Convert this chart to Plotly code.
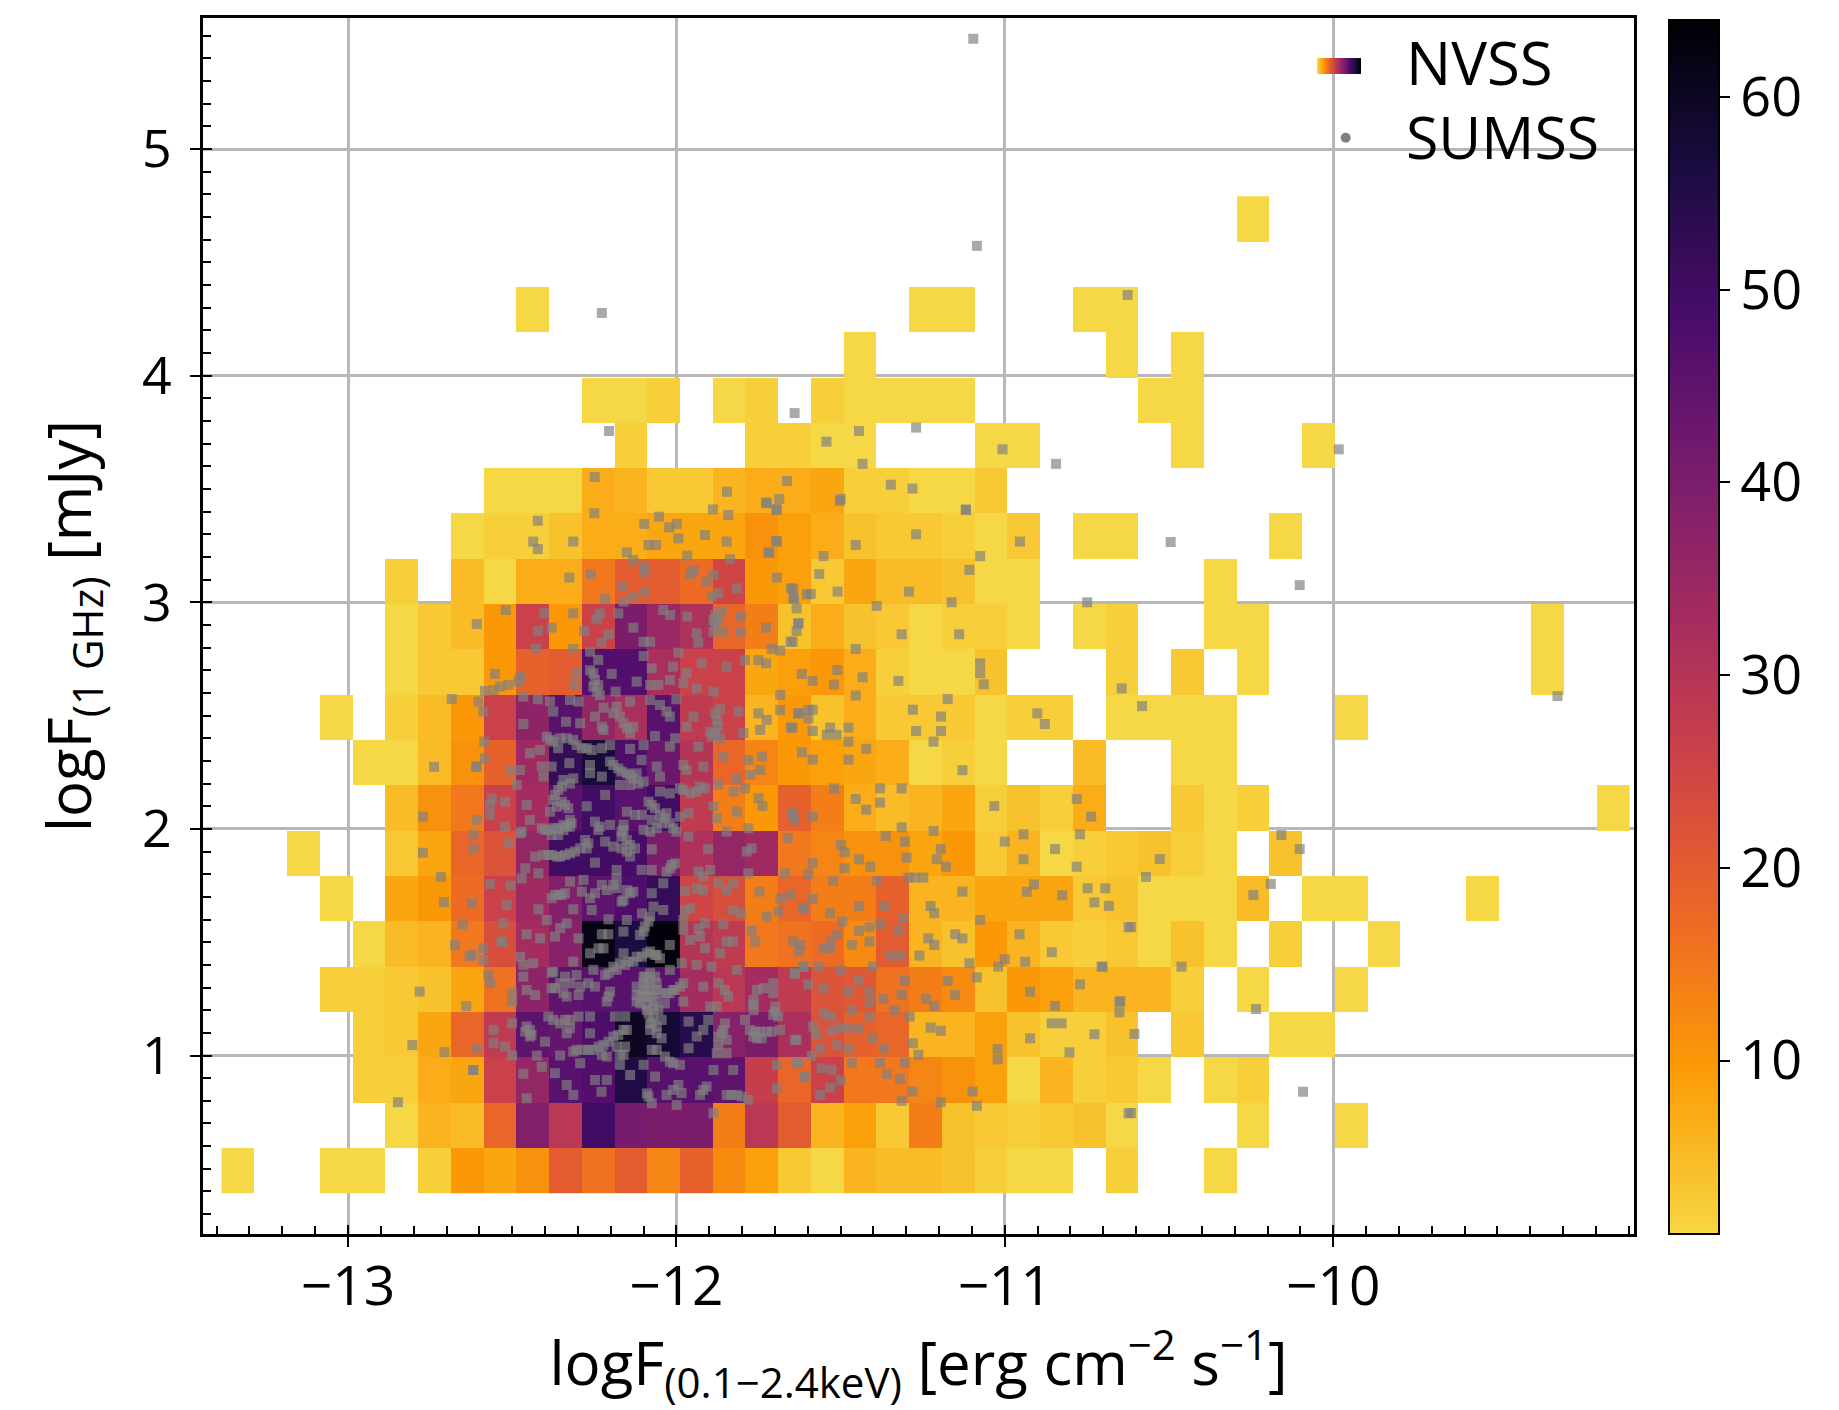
import plotly.graph_objects as go

W, H = 1839, 1410
x_first_edge = -13.385
x_bin = 0.0997
y_first_edge = 0.392
y_bin = 0.2
n_cols = 43
color_min, color_max = 1, 64
colorbar_ticks = [10, 20, 30, 40, 50, 60]
x_ticks = [-13, -12, -11, -10]
y_ticks = [1, 2, 3, 4, 5]

# NVSS counts: {row: {column: count}}; row 0 is the bottom row
r00 = {0:1,3:1,4:1,6:2,7:10,8:8,9:11,10:20,11:16,12:20,13:13,14:19,15:12,16:9,17:3,18:1,19:6,20:5,21:5,22:4,23:2,24:1,25:1,27:2,30:1}
r01 = {5:1,6:6,7:5,8:18,9:39,10:29,11:50,12:41,13:40,14:40,15:14,16:29,17:20,18:6,19:9,20:3,21:14,22:4,23:3,24:2,25:3,26:4,27:1,31:1,34:1}
r02 = {4:2,5:2,6:7,7:8,8:26,9:36,10:46,11:47,12:55,13:46,14:46,15:45,16:27,17:18,18:26,19:15,20:15,21:13,22:11,23:9,24:1,25:6,26:2,27:3,28:1,30:1,31:2}
r03 = {4:2,5:3,6:8,7:18,8:28,9:45,10:44,11:48,12:60,13:58,14:54,15:38,16:40,17:32,18:22,19:19,20:18,21:6,22:6,23:9,24:4,25:2,26:2,27:4,29:3,32:1,33:1}
r04 = {3:2,4:2,5:3,6:4,7:8,8:16,9:37,10:45,11:46,12:46,13:46,14:33,15:29,16:33,17:28,18:22,19:21,20:16,21:14,22:12,23:4,24:10,25:9,26:6,27:6,28:6,29:2,31:1,34:1}
r05 = {4:1,5:5,6:6,7:15,8:23,9:33,10:38,11:62,12:56,13:63,14:30,15:28,16:15,17:16,18:17,19:12,20:20,21:6,22:4,23:10,24:6,25:3,26:2,27:3,28:1,29:4,30:1,32:2,35:1}
r06 = {3:1,5:8,6:10,7:17,8:26,9:34,10:39,11:45,12:48,13:52,14:25,15:23,16:14,17:18,18:14,19:14,20:19,21:6,22:6,23:8,24:8,25:8,26:3,27:4,28:1,29:1,30:1,31:5,33:1,34:1,38:1}
r07 = {2:1,5:3,6:8,7:18,8:22,9:36,10:50,11:50,12:49,13:40,14:31,15:36,16:34,17:15,18:13,19:11,20:11,21:8,22:10,23:3,24:6,25:1,26:2,27:3,28:4,29:2,30:1,32:4}
r08 = {5:5,6:11,7:15,8:26,9:33,10:46,11:50,12:46,13:50,14:28,15:14,16:10,17:19,18:14,19:7,20:5,21:6,22:8,23:2,24:4,25:2,26:7,29:3,30:1,31:2,42:1}
r09 = {4:1,5:1,6:5,7:11,8:19,9:34,10:52,11:57,12:48,13:43,14:30,15:18,16:13,17:10,18:9,19:8,20:7,21:1,22:2,23:1,26:5,29:1,30:1}
r10 = {3:1,5:2,6:5,7:10,8:26,9:37,10:46,11:36,12:32,13:46,14:28,15:26,16:6,17:10,18:4,19:7,20:3,21:3,22:3,23:1,24:2,25:2,27:1,28:1,29:1,30:1,34:1}
r11 = {5:1,6:3,7:3,8:10,9:19,10:20,11:47,12:47,13:32,14:26,15:26,16:8,17:9,18:10,19:7,20:2,21:1,22:1,23:4,27:2,29:3,31:1,40:1}
r12 = {5:1,6:3,7:5,8:10,9:26,10:10,11:26,12:40,13:35,14:31,15:18,16:14,17:4,18:7,19:4,20:3,21:1,22:2,23:2,24:1,26:1,27:2,30:1,31:1,40:1}
r13 = {5:2,7:5,8:1,9:7,10:7,11:15,12:20,13:20,14:17,15:25,16:10,17:9,18:3,19:8,20:5,21:5,22:4,23:1,24:1,30:1}
r14 = {7:1,8:2,9:2,10:4,11:7,12:7,13:8,14:8,15:8,16:11,17:9,18:7,19:4,20:3,21:3,22:2,23:1,24:3,26:1,27:1,32:1}
r15 = {8:1,9:1,10:1,11:7,12:6,13:3,14:3,15:6,16:7,17:7,18:8,19:2,20:2,21:1,22:1,23:3}
r16 = {12:2,16:2,17:2,18:1,19:1,23:1,24:1,29:1,33:1}
r17 = {11:1,12:1,13:2,15:1,16:2,18:2,19:1,20:1,21:1,22:1,28:1,29:1}
r18 = {19:1,27:1,29:1}
r19 = {9:1,21:1,22:1,26:1,27:1}
r20 = {}
r21 = {31:1}
nvss_rows = [r00,r01,r02,r03,r04,r05,r06,r07,r08,r09,r10,r11,r12,r13,r14,r15,r16,r17,r18,r19,r20,r21]

# SUMSS sources (logF_X, logF_radio)
sumss_points = [
(-11.502,3.447),(-11.119,3.41),(-11.27,3.3),(-11.454,3.253),(-10.954,3.268),(-11.552,3.204),(-11.075,3.204),(-11.565,3.125),(-11.108,3.143),(-11.509,3.047),
(-11.292,3.047),(-11.591,3.037),(-11.644,3.06),(-11.642,3.017),(-11.162,3.0),(-10.749,3.0),(-11.39,2.984),(-11.634,2.973),(-11.629,2.907),(-11.634,2.873),
(-11.646,2.826),(-11.314,2.859),(-11.139,2.859),(-11.454,2.794),(-11.51,2.701),(-11.618,2.684),(-11.585,2.653),(-11.52,2.637),(-11.433,2.669),(-11.324,2.653),
(-11.075,2.731),(-11.075,2.687),(-11.064,2.638),(-10.644,2.62),(-11.454,2.589),(-11.174,2.573),(-11.28,2.526),(-11.194,2.496),(-11.585,2.526),(-11.629,2.51),
(-11.598,2.488),(-11.646,2.447),(-11.585,2.432),(-11.532,2.447),(-11.476,2.447),(-11.542,2.415),(-11.512,2.415),(-11.476,2.385),(-11.27,2.432),(-11.194,2.432),
(-11.217,2.385),(-10.901,2.51),(-10.878,2.463),(-11.422,2.353),(-11.618,2.338),(-11.585,2.306),(-11.476,2.306),(-11.129,2.259),(-11.52,2.179),(-11.38,2.179),
(-11.314,2.179),(-11.454,2.132),(-11.38,2.116),(-11.422,2.085),(-10.781,2.132),(-10.737,2.054),(-11.032,2.101),(-11.644,2.062),(-11.585,2.054),(-11.314,2.007),
(-11.217,1.991),(-10.943,1.976),(-11.363,1.969),(-11.304,1.944),(-11.499,1.929),(-11.488,1.897),(-11.195,1.911),(-11.207,1.866),(-11.299,1.873),(-11.444,1.866),
(-11.41,1.833),(-11.585,1.848),(-11.598,1.801),(-11.488,1.826),(-11.179,1.833),(-11.0,1.944),(-10.943,1.866),(-10.847,1.911),(-10.771,1.976),(-10.781,1.833),
(-11.522,1.77),(-11.39,1.77),(-11.294,1.785),(-11.273,1.785),(-11.248,1.785),(-11.129,1.723),(-10.933,1.723),(-10.911,1.755),(-10.825,1.707),(-10.748,1.738),
(-10.694,1.738),(-10.727,1.676),(-10.683,1.66),(-11.585,1.691),(-11.613,1.65),(-11.444,1.66),(-11.368,1.66),(-11.532,1.628),(-11.226,1.66),(-11.215,1.628),
(-11.495,1.591),(-11.309,1.606),(-11.075,1.598),(-11.412,1.566),(-11.444,1.55),(-11.38,1.581),(-11.324,1.55),(-11.51,1.535),(-11.532,1.503),(-11.151,1.535),
(-11.129,1.517),(-11.233,1.517),(-11.215,1.488),(-10.955,1.535),(-10.623,1.566),(-11.466,1.488),(-11.412,1.503),(-11.532,1.473),(-11.552,1.473),(-11.26,1.441),
(-11.349,1.441),(-11.319,1.441),(-10.857,1.456),(-11.0,1.425),(-11.02,1.392),(-10.938,1.414),(-11.108,1.407),(-10.705,1.392),(-11.499,1.378),(-11.402,1.392),
(-11.565,1.392),(-11.613,1.392),(-11.639,1.36),(-11.304,1.329),(-11.174,1.329),(-11.085,1.345),(-10.771,1.314),(-11.444,1.329),(-11.552,1.297),(-11.598,1.314),
(-11.476,1.282),(-11.412,1.282),(-11.412,1.235),(-10.923,1.282),(-11.151,1.267),(-11.314,1.267),(-11.37,1.25),(-11.24,1.25),(-11.215,1.219),(-10.847,1.219),
(-10.651,1.235),(-10.651,1.19),(-11.466,1.201),(-11.336,1.201),(-11.552,1.186),(-11.53,1.172),(-11.412,1.172),(-11.29,1.172),(-11.226,1.123),(-11.195,1.109),
(-10.857,1.142),(-10.827,1.142),(-10.727,1.094),(-11.476,1.123),(-11.444,1.116),(-11.499,1.123),(-11.583,1.128),(-11.527,1.109),(-11.575,1.091),(-11.402,1.076),
(-10.923,1.076),(-11.634,1.069),(-11.28,1.054),(-11.263,1.003),(-11.51,1.045),(-11.563,1.032),(-11.476,1.032),(-11.368,1.029),(-11.022,1.029),(-11.022,0.983),
(-10.803,1.014),(-11.588,0.998),(-11.466,0.967),(-11.38,0.967),(-11.304,0.967),(-11.634,0.966),(-11.558,0.944),(-11.527,0.937),(-11.608,0.904),(-11.358,0.919),
(-11.319,0.897),(-11.499,0.89),(-11.532,0.859),(-11.563,0.826),(-11.281,0.841),(-11.098,0.841),(-11.314,0.8),(-11.195,0.794),(-11.085,0.778),(-10.623,0.745),
(-12.25,3.393),(-12.422,3.36),(-12.053,3.378),(-12.098,3.346),(-11.889,3.41),(-11.842,3.385),(-11.999,3.346),(-12.022,3.331),(-11.994,3.282),(-11.913,3.297),
(-11.847,3.268),(-12.436,3.268),(-12.422,3.235),(-12.314,3.268),(-12.085,3.253),(-12.062,3.253),(-12.151,3.22),(-11.967,3.206),(-11.694,3.268),(-11.717,3.22),
(-11.725,3.437),(-11.694,3.407),(-11.837,3.19),(-12.131,3.187),(-12.098,3.157),(-12.098,3.131),(-11.958,3.125),(-11.948,3.143),(-11.908,3.091),(-12.326,3.109),
(-12.26,3.125),(-11.694,3.109),(-11.887,3.12),(-12.164,3.069),(-11.816,3.062),(-12.095,3.047),(-12.131,3.028),(-11.892,3.025),(-11.872,3.04),(-12.217,3.015),
(-11.651,3.062),(-11.644,3.018),(-11.603,3.035),(-12.161,3.003),(-12.52,2.966),(-12.403,2.951),(-12.314,2.951),(-12.608,2.904),(-12.177,2.951),(-12.233,2.951),
(-12.243,2.925),(-12.04,2.966),(-12.019,2.944),(-11.967,2.937),(-11.882,2.944),(-11.862,2.959),(-11.882,2.9),(-11.857,2.87),(-11.887,2.87),(-11.804,2.937),
(-11.804,2.87),(-11.727,2.888),(-12.38,2.888),(-12.422,2.873),(-12.281,2.873),(-12.131,2.888),(-11.938,2.863),(-11.933,2.822),(-12.207,2.859),(-12.228,2.822),
(-12.1,2.826),(-12.08,2.826),(-11.628,2.907),(-11.652,2.826),(-12.428,2.794),(-12.314,2.794),(-11.994,2.778),(-11.684,2.787),(-11.71,2.794),(-12.263,2.782),
(-12.238,2.746),(-12.263,2.7),(-12.1,2.763),(-11.791,2.745),(-11.75,2.745),(-11.727,2.731),(-11.923,2.731),(-11.847,2.716),(-12.075,2.709),(-12.01,2.716),
(-12.197,2.684),(-12.552,2.684),(-12.476,2.672),(-12.481,2.65),(-12.304,2.687),(-12.312,2.635),(-11.969,2.687),(-12.248,2.657),(-12.243,2.606),(-12.121,2.65),
(-12.08,2.635),(-12.055,2.635),(-12.02,2.657),(-11.979,2.643),(-11.938,2.62),(-11.887,2.606),(-12.512,2.635),(-12.537,2.628),(-12.557,2.613),(-12.583,2.609),
(-12.185,2.606),(-11.684,2.591),(-12.603,2.562),(-12.588,2.518),(-12.466,2.584),(-12.422,2.572),(-12.385,2.562),(-12.375,2.518),(-12.324,2.569),(-12.298,2.562),
(-12.08,2.569),(-12.05,2.547),(-12.0,2.572),(-12.03,2.518),(-12.02,2.496),(-12.222,2.535),(-12.182,2.54),(-12.141,2.562),(-12.248,2.496),(-12.172,2.496),
(-12.336,2.473),(-12.293,2.466),(-12.466,2.463),(-11.948,2.496),(-11.969,2.451),(-11.867,2.528),(-11.877,2.481),(-11.882,2.422),(-11.892,2.407),(-11.811,2.518),
(-11.796,2.422),(-11.75,2.51),(-11.725,2.481),(-11.745,2.437),(-11.684,2.525),(-11.628,2.51),(-11.598,2.525),(-11.651,2.447),(-12.151,2.444),(-12.227,2.451),
(-12.141,2.422),(-12.395,2.407),(-12.375,2.385),(-12.334,2.4),(-12.304,2.37),(-12.273,2.356),(-12.227,2.356),(-12.065,2.41),(-12.004,2.4),(-12.141,2.353),
(-12.1,2.37),(-12.585,2.385),(-12.02,2.363),(-11.933,2.363),(-11.781,2.304),(-11.74,2.319),(-12.446,2.334),(-12.415,2.348),(-12.326,2.29),(-12.583,2.312),
(-12.61,2.275),(-11.857,2.319),(-12.106,2.304),(-12.202,2.297),(-12.177,2.267),(-12.151,2.245),(-12.131,2.223),(-12.1,2.209),(-12.263,2.282),(-12.263,2.246),
(-12.476,2.26),(-12.507,2.26),(-12.41,2.275),(-12.405,2.231),(-12.38,2.275),(-11.979,2.282),(-11.969,2.26),(-12.06,2.275),(-12.05,2.231),(-11.918,2.275),
(-11.745,2.26),(-11.775,2.238),(-12.314,2.223),(-12.349,2.187),(-12.37,2.15),(-12.364,2.098),(-12.339,2.106),(-12.227,2.231),(-12.172,2.194),(-12.486,2.194),
(-11.989,2.179),(-12.05,2.165),(-12.02,2.157),(-11.938,2.165),(-11.913,2.179),(-11.816,2.223),(-11.791,2.179),(-11.826,2.165),(-11.872,2.194),(-12.217,2.15),
(-12.273,2.1),(-12.085,2.12),(-12.065,2.091),(-12.035,2.047),(-12.02,2.025),(-12.562,2.135),(-12.568,2.106),(-12.522,2.12),(-11.738,2.101),(-11.75,2.135),
(-12.456,2.106),(-12.446,2.04),(-12.385,2.076),(-12.151,2.076),(-12.126,2.062),(-12.105,2.062),(-11.989,2.054),(-11.963,2.069),(-11.877,2.047),(-11.887,2.1),
(-11.816,2.076),(-11.649,2.069),(-11.639,2.04),(-12.568,2.062),(-12.608,2.04),(-12.324,2.04),(-12.36,2.003),(-12.4,1.996),(-12.38,1.973),(-12.248,2.032),
(-12.233,2.01),(-12.202,2.018),(-12.167,1.988),(-12.08,1.988),(-12.0,1.988),(-12.471,1.988),(-11.847,1.988),(-11.781,2.003),
(-12.344,1.995),(-12.319,2.025),(-12.238,1.995),(-12.161,1.995),(-12.151,1.951),(-12.151,1.9),(-12.126,1.914),(-11.964,1.966),(-11.771,1.914),(-11.786,1.9),
(-11.661,1.959),(-12.618,1.973),(-12.618,1.914),(-12.522,2.01),(-12.512,1.936),(-12.476,1.98),(-12.217,1.944),(-12.293,1.914),(-12.278,1.951),(-12.324,1.892),
(-12.354,1.878),(-12.38,1.885),(-12.405,1.885),(-12.192,1.922),(-12.075,1.91),(-11.903,1.91),(-12.43,1.878),(-12.248,1.851),(-12.106,1.819),(-12.075,1.819),
(-12.182,1.819),(-12.182,1.782),(-12.014,1.841),(-12.03,1.811),(-11.933,1.811),(-11.897,1.819),(-11.918,1.79),(-11.781,1.804),(-11.669,1.804),(-12.46,1.826),
(-12.42,1.804),(-12.471,1.782),(-12.324,1.767),(-12.283,1.775),(-12.227,1.753),(-12.192,1.753),(-12.151,1.73),(-12.131,1.723),(-12.568,1.757),(-12.505,1.75),
(-12.04,1.76),(-11.872,1.76),(-11.827,1.76),(-11.847,1.73),(-11.974,1.726),(-11.938,1.738),(-11.918,1.73),(-11.747,1.723),(-12.288,1.723),(-12.36,1.709),
(-12.38,1.694),(-12.339,1.716),(-12.263,1.694),(-12.248,1.716),(-12.167,1.679),(-12.212,1.73),(-12.075,1.716),(-11.684,1.694),(-11.689,1.635),(-11.613,1.65),
(-11.654,1.709),(-12.517,1.664),(-12.623,1.672),(-12.42,1.645),(-12.314,1.645),(-12.258,1.642),(-12.07,1.657),(-12.08,1.613),(-12.096,1.569),(-12.111,1.532),
(-12.04,1.642),(-12.105,1.627),(-12.151,1.598),(-12.207,1.601),(-11.974,1.642),(-11.979,1.598),(-11.958,1.65),(-11.827,1.642),(-11.802,1.628),(-11.725,1.613),
(-12.395,1.598),(-12.334,1.583),(-12.354,1.562),(-12.37,1.525),(-12.527,1.583),(-11.913,1.583),(-11.979,1.554),(-11.857,1.58),(-11.933,1.561),(-12.456,1.535),
(-12.415,1.517),(-12.298,1.517),(-12.227,1.535),(-12.207,1.535),(-12.161,1.547),(-11.771,1.55),(-12.532,1.503),(-11.958,1.51),(-11.928,1.525),(-11.847,1.503),
(-11.827,1.503),(-11.644,1.503),(-11.623,1.488),(-11.76,1.503),(-12.02,1.488),(-12.237,1.473),(-12.222,1.473),(-12.263,1.451),(-11.913,1.473),(-11.628,1.459),
(-12.588,1.473),(-12.588,1.422),(-11.867,1.451),(-12.623,1.444),(-12.161,1.451),(-12.08,1.459),(-12.105,1.436),(-12.131,1.414),(-12.156,1.4),(-12.182,1.378),
(-12.207,1.363),(-12.06,1.444),(-12.476,1.436),(-12.466,1.4),(-11.938,1.4),(-11.893,1.392),(-11.984,1.407),(-12.436,1.407),(-12.314,1.414),(-12.253,1.378),
(-12.38,1.366),(-11.613,1.392),(-11.639,1.363),(-11.816,1.378),(-12.573,1.355),(-12.568,1.319),(-12.466,1.348),(-12.339,1.348),(-12.304,1.355),(-12.095,1.348),
(-12.065,1.348),(-12.02,1.378),(-11.979,1.319),(-11.872,1.319),(-11.852,1.289),(-11.842,1.26),(-12.37,1.297),(-12.268,1.319),(-12.248,1.304),(-12.09,1.304),
(-12.11,1.267),(-12.085,1.26),(-12.06,1.289),(-12.02,1.275),(-11.918,1.304),(-12.456,1.289),(-12.43,1.267),(-12.298,1.267),(-12.334,1.26),(-12.202,1.282),
(-12.212,1.238),(-12.121,1.238),(-12.09,1.223),(-12.065,1.238),(-12.085,1.186),(-12.5,1.275),(-12.5,1.238),(-11.755,1.289),(-11.765,1.245),(-11.765,1.2),
(-11.735,1.297),(-11.705,1.319),(-11.705,1.275),(-11.699,1.216),(-11.705,1.179),(-11.897,1.216),(-11.877,1.216),(-11.979,1.238),(-12.045,1.157),(-12.08,1.142),
(-12.06,1.098),(-12.045,1.076),(-12.39,1.172),(-12.339,1.157),(-12.324,1.12),(-12.354,1.142),(-12.298,1.172),(-12.263,1.172),(-12.446,1.113),(-12.456,1.128),
(-12.441,1.091),(-12.5,1.142),(-12.156,1.172),(-12.187,1.172),(-12.161,1.113),(-12.192,1.084),(-12.222,1.047),(-12.253,1.025),(-12.283,1.025),(-12.314,1.017),
(-12.212,0.995),(-12.156,1.039),(-12.172,1.003),(-11.903,1.157),(-11.852,1.142),(-11.862,1.098),(-11.872,1.047),(-11.847,1.01),(-11.791,1.157),(-11.76,1.105),
(-11.725,1.105),(-11.684,1.113),(-11.755,1.076),(-11.639,1.069),(-12.557,1.113),(-12.557,1.054),(-12.522,1.039),(-12.4,1.061),(-12.263,1.098),(-11.963,1.15),
(-11.918,1.113),(-11.938,1.084),(-11.963,1.032),(-12.075,1.025),(-12.035,0.995),(-12.01,0.966),(-12.608,1.028),(-12.5,1.0),(-12.354,1.0),(-12.293,0.966),
(-12.425,1.0),(-12.41,0.95),(-12.1,0.959),(-12.172,0.959),(-12.618,0.936),(-12.466,0.919),(-12.37,0.922),(-12.141,0.914),(-12.065,0.907),(-11.887,0.936),
(-11.827,0.936),(-11.694,0.958),(-11.628,0.966),(-11.608,0.907),(-12.248,0.892),(-12.212,0.892),(-12.228,0.84),(-12.334,0.87),(-12.314,0.826),(-11.994,0.87),
(-11.984,0.834),(-11.694,0.855),(-11.918,0.848),(-11.928,0.826),(-11.847,0.826),(-11.816,0.826),(-11.781,0.804),(-12.456,0.811),(-12.085,0.819),(-12.03,0.826),
(-11.999,0.782),(-12.075,0.789),(-11.887,0.745),
(-12.738,2.274),(-12.608,2.274),(-12.772,2.054),(-12.772,1.895),(-12.717,1.788),(-12.708,1.677),(-12.651,1.58),(-12.674,1.488),(-12.63,1.439),(-12.532,1.502),
(-12.782,1.282),(-12.64,1.218),(-12.804,1.046),(-12.706,1.015),(-12.619,0.936),(-12.848,0.794),(-12.227,4.277),(-12.205,3.756),(-12.684,2.573),(-12.249,3.553),
(-11.846,3.488),(-11.096,5.487),(-11.085,4.573),(-10.626,4.356),(-11.64,3.835),(-11.27,3.771),(-11.444,3.756),(-11.543,3.709),(-11.433,3.611),(-11.007,3.675),
(-10.844,3.611),(-9.983,3.675),(-11.663,3.535),(-11.347,3.519),(-11.281,3.502),(-11.5,3.456),(-11.727,3.44),(-11.687,3.456),(-11.696,3.412),(-11.118,3.407),
(-11.696,3.27),(-11.72,3.219),(-10.495,3.266),(-10.102,3.076),(-9.317,2.586),(-10.582,2.542),(-10.158,1.973),(-10.102,1.911),(-10.19,1.757),(-10.243,1.708),
(-10.235,1.205),(-10.092,0.84),(-10.462,1.392),(-10.528,1.867),(-10.57,1.788),(-10.615,1.567),(-10.702,1.392),(-10.615,0.746),(-10.605,1.095),(-10.648,1.24),
]
# Additional sources read from the crowded clumps of the core
sumss_core = [
(-12.385,2.393),(-12.36,2.356),(-12.314,2.393),(-12.288,2.356),(-12.258,2.348),(-12.202,2.37),(-12.354,2.4),(-12.324,2.2),(-12.344,2.216),(-12.36,2.172),
(-12.375,2.128),(-12.349,2.12),(-12.329,2.091),(-12.192,2.282),(-12.167,2.253),(-12.141,2.238),(-12.121,2.245),(-12.116,2.2),(-12.141,2.194),(-12.075,2.106),
(-12.05,2.062),(-12.03,2.069),(-12.045,2.025),(-12.01,2.003),(-11.882,2.51),(-11.872,2.451),(-11.897,2.429),(-11.867,2.4),(-11.872,2.922),(-11.887,2.922),
(-12.344,2.018),(-12.375,2.003),(-12.324,2.01),(-12.41,2.003),(-12.253,2.687),(-12.238,2.635),(-12.253,2.628),(-12.233,2.59),(-12.222,2.437),(-12.192,2.51),
(-12.161,2.466),(-12.131,2.451),(-12.161,2.018),(-12.075,2.04),(-12.06,2.003),(-12.1,1.996),(-11.979,2.172),(-11.928,2.187),(-11.958,2.157),
(-12.39,1.885),(-12.364,1.878),(-12.339,1.885),(-12.309,1.9),(-12.273,1.914),(-12.268,1.936),(-12.39,1.995),(-12.36,1.973),(-12.334,2.01),(-12.167,1.966),
(-12.141,1.929),(-12.167,1.914),(-12.141,1.878),(-12.019,1.826),(-12.004,1.848),(-12.37,1.709),(-12.349,1.709),(-12.182,1.738),(-12.161,1.686),(-12.141,1.716),
(-12.121,1.304),(-12.1,1.319),(-12.08,1.333),(-12.06,1.319),(-12.1,1.289),(-12.08,1.289),(-12.121,1.267),(-12.1,1.26),(-12.075,1.26),(-12.05,1.275),
(-12.03,1.275),(-12.01,1.289),(-12.11,1.23),(-12.09,1.201),(-12.07,1.216),(-12.1,1.348),(-12.08,1.363),(-12.07,1.172),(-12.06,1.128),(-12.08,1.113),
(-12.055,1.201),(-12.035,1.23),(-12.075,1.142),(-12.192,1.392),(-12.172,1.407),(-12.146,1.414),(-12.121,1.436),(-12.09,1.451),(-12.065,1.444),(-12.217,1.355),
(-12.05,1.429),(-12.304,1.025),(-12.268,1.025),(-12.237,1.039),(-12.207,1.061),(-12.177,1.091),(-12.151,1.113),(-12.227,1.003),(-12.161,1.003),(-12.182,1.039),
(-11.776,1.113),(-11.745,1.105),(-11.71,1.105),(-11.74,1.076),(-11.766,1.084),(-11.857,1.113),(-11.872,1.084),(-11.847,1.069),(-11.877,1.01),(-11.766,1.223),
(-11.7,1.194),(-11.69,1.172),(-12.085,1.591),(-12.1,1.547),(-12.46,1.105),(-12.446,1.084),(-12.375,1.157),(-12.324,1.157),(-12.334,1.098),(-12.375,1.37),
(-12.354,1.319),(-12.324,1.319),(-12.293,1.304),(-12.38,1.297),(-12.344,1.275),(-12.207,1.26),(-12.004,1.289),(-11.989,1.304),(-12.09,0.833),(-12.01,0.848),
(-11.908,0.863),(-11.832,0.826),(-11.801,0.819),(-12.02,0.973),(-11.989,0.959),(-12.06,1.025),
]

z = [[row.get(c) for c in range(n_cols)] for row in nvss_rows]
sumss_all = sumss_points + sumss_core
sumss_x = [p[0] for p in sumss_all]
sumss_y = [p[1] for p in sumss_all]

# matplotlib "inferno" reversed, starting from its 0.9 level (pale end cut off)
inferno = ['#000004','#1b0c41','#4a0c6b','#781c6d','#a52c60','#cf4446','#ed6925','#fb9b06','#f7d13d']
scale = [[0.0, '#f6d746']] + [[1 - (k / 9) / 0.9, inferno[k]] for k in range(8, -1, -1)]

ax_l, ax_r, ax_t, ax_b = 203, 1634, 18, 1234
x_range = [-13 - (348 - ax_l) / 328.4, -13 + (ax_r - 348) / 328.4]
y_range = [1 - (ax_b - 1055.5) / 226.6, 1 + (1055.5 - ax_t) / 226.6]
dom_x = [ax_l / W, ax_r / W]
dom_y = [1 - ax_b / H, 1 - ax_t / H]
FONT = "Open Sans"
TICK = 52

fig = go.Figure()
fig.add_trace(go.Heatmap(
    z=z, x0=x_first_edge + x_bin / 2, dx=x_bin, y0=y_first_edge + y_bin / 2, dy=y_bin,
    colorscale=scale, zmin=color_min, zmax=color_max, hoverongaps=False, name="NVSS",
    colorbar=dict(x=1669 / W, xanchor="left", xpad=0, ypad=0, y=1 - 1234 / H, yanchor="bottom",
                  len=(1234 - 20) / H, lenmode="fraction", thickness=50, thicknessmode="pixels",
                  outlinewidth=2, outlinecolor="black", tickvals=colorbar_ticks, ticks="outside",
                  ticklen=10, tickwidth=2, tickcolor="black", tickprefix="\u2009\u2009\u2009\u2009",
                  tickfont=dict(family=FONT, size=54, color="black")),
))
fig.add_trace(go.Scatter(x=sumss_x, y=sumss_y, mode="markers", name="SUMSS",
                         marker=dict(symbol="square", size=10, color="#808080", opacity=0.68, line=dict(width=0))))
# inward half of the major ticks
fig.add_trace(go.Scatter(x=[None], y=[None], xaxis="x2", yaxis="y2", showlegend=False))
# legend keys
fig.add_trace(go.Heatmap(z=[list(range(color_min, color_max + 1))], xaxis="x3", yaxis="y3", colorscale=scale,
                         zmin=color_min, zmax=color_max, showscale=False, hoverinfo="skip"))
fig.add_trace(go.Scatter(x=[-9.962], y=[5.05], mode="markers", showlegend=False,
                         marker=dict(symbol="circle", size=10, color="#808080")))

base_axis = dict(showline=True, linecolor="black", linewidth=2.5, mirror=True, zeroline=False,
                 showgrid=True, gridcolor="#b8b8b8", gridwidth=2.5,
                 ticks="outside", ticklen=10, tickwidth=2, tickcolor="black",
                 minor=dict(dtick=0.1, ticks="inside", ticklen=8, tickwidth=2, tickcolor="black", showgrid=False),
                 tickfont=dict(family=FONT, size=TICK, color="black"))
fig.update_layout(
    width=W, height=H, autosize=False, paper_bgcolor="white", plot_bgcolor="white", showlegend=False,
    margin=dict(l=0, r=0, t=0, b=0),
    xaxis=dict(base_axis, domain=dom_x, range=x_range, tickvals=x_ticks, ticklabelstandoff=-8,
               tickfont=dict(family=FONT, size=55, color="black"),
               minor=dict(base_axis["minor"], tick0=-13),
               title=dict(text="logF<sub>(0.1−2.4keV)</sub> [erg cm<sup>−2</sup> s<sup>−1</sup>]",
                          font=dict(family=FONT, size=60, color="black"), standoff=10)),
    yaxis=dict(base_axis, domain=dom_y, range=y_range, tickvals=y_ticks, ticklabelstandoff=8,
               minor=dict(base_axis["minor"], tick0=1),
               title=dict(text="logF<sub>(1 GHz)</sub> [mJy]",
                          font=dict(family=FONT, size=60, color="black"), standoff=32)),
    xaxis2=dict(domain=dom_x, range=x_range, overlaying="x", anchor="y2", tickvals=x_ticks, ticks="inside",
                ticklen=9, tickwidth=2, tickcolor="black", showticklabels=False, showgrid=False, zeroline=False),
    yaxis2=dict(domain=dom_y, range=y_range, overlaying="y", anchor="x2", tickvals=y_ticks, ticks="inside",
                ticklen=9, tickwidth=2, tickcolor="black", showticklabels=False, showgrid=False, zeroline=False),
    xaxis3=dict(domain=[1317 / W, 1361 / W], anchor="y3", visible=False),
    yaxis3=dict(domain=[1 - 74 / H, 1 - 58 / H], anchor="x3", visible=False),
    annotations=[
        dict(text="NVSS", x=1404 / W, y=1 - 62 / H, xref="paper", yref="paper", xanchor="left", yanchor="middle",
             showarrow=False, font=dict(family=FONT, size=60, color="black")),
        dict(text="SUMSS", x=1404 / W, y=1 - 136 / H, xref="paper", yref="paper", xanchor="left", yanchor="middle",
             showarrow=False, font=dict(family=FONT, size=59, color="black")),
    ],
)
fig.write_html("out.html", config=dict(displayModeBar=False),
               post_script="document.body.style.margin='0';document.documentElement.style.overflow='hidden';")
